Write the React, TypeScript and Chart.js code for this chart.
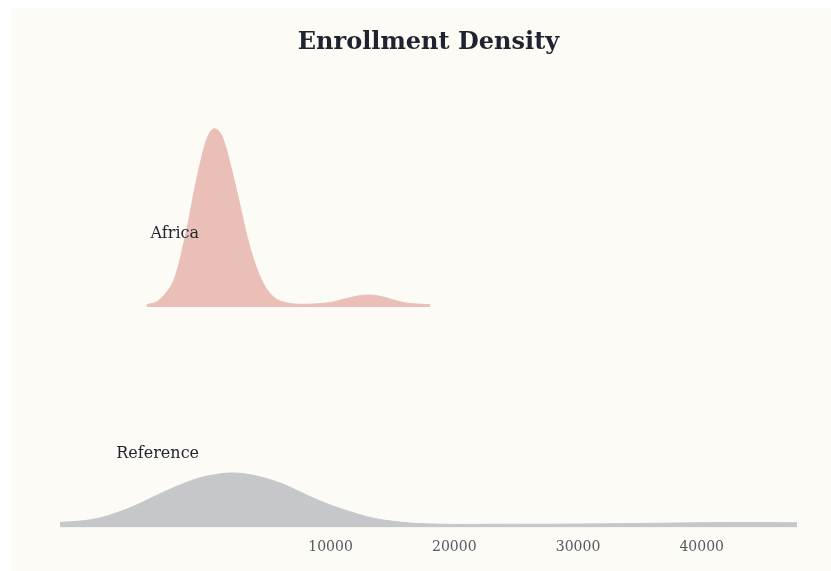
import React, { useEffect, useRef } from "react";
import { Chart, registerables } from "chart.js";

Chart.register(...registerables);

const TITLE = "Enrollment Density";
const BG = "#fdfbf6";

// x axis
const X_MIN = -11870;
const X_MAX = 47700;
const TICK_VALUES = [10000, 20000, 30000, 40000];

// ridge names (top to bottom)
const RIDGES = ["Africa", "Reference"];

// Africa density (relative)
const africaX = [-4860, -4000, -3000, -2500, -2000, -1500, -1000, -500, 0, 500, 1000, 1500, 2000, 2500, 3000, 3500, 4000, 4500, 5000, 5500, 6000, 7000, 8000, 9000, 10000, 11000, 12000, 13000, 14000, 15000, 16000, 17000, 18050];
const africaDensity = [0.013, 0.031, 0.106, 0.184, 0.318, 0.475, 0.659, 0.816, 0.944, 1.0, 0.986, 0.905, 0.771, 0.626, 0.469, 0.33, 0.223, 0.14, 0.084, 0.05, 0.031, 0.017, 0.015, 0.018, 0.025, 0.042, 0.059, 0.067, 0.06, 0.041, 0.023, 0.016, 0.013];

// Reference density (relative)
const referenceX = [-11870, -10000, -8600, -7300, -5900, -4600, -3200, -1900, -550, 800, 2150, 3500, 4850, 6200, 7550, 8900, 10250, 11600, 12950, 14300, 15600, 17000, 19700, 24000, 28000, 32000, 36000, 40000, 44000, 47700];
const referenceDensity = [0.028, 0.037, 0.054, 0.082, 0.119, 0.162, 0.208, 0.246, 0.279, 0.298, 0.306, 0.296, 0.274, 0.242, 0.199, 0.156, 0.119, 0.088, 0.06, 0.041, 0.03, 0.022, 0.017, 0.018, 0.018, 0.02, 0.023, 0.026, 0.027, 0.026];

const COLORS = ["#eabfb8", "#c6c7cb"];

const AMP = 0.807; // ridge height per density unit
const LABEL_X = -630;
const LABEL_LIFT = 0.315;

export default function App() {
  const ref = useRef<HTMLCanvasElement>(null);

  useEffect(() => {
    if (!ref.current) return;
    const series = [
      { x: africaX, d: africaDensity, offset: 1 },
      { x: referenceX, d: referenceDensity, offset: 0 },
    ];
    const datasets = series.map((s, i) => ({
      label: RIDGES[i],
      data: s.x.map((x, j) => ({ x, y: s.offset + s.d[j] * AMP })),
      backgroundColor: COLORS[i],
      borderColor: COLORS[i],
      borderWidth: 1,
      pointRadius: 0,
      tension: 0.35,
      fill: { value: s.offset },
    }));

    const labelsPlugin = {
      id: "ridgeLabels",
      afterDatasetsDraw(chart: any) {
        const { ctx, scales } = chart;
        ctx.save();
        ctx.font = "16px 'DejaVu Serif'";
        ctx.fillStyle = "#252530";
        ctx.textAlign = "right";
        ctx.textBaseline = "alphabetic";
        series.forEach((s, i) => {
          ctx.fillText(
            RIDGES[i],
            scales.x.getPixelForValue(LABEL_X),
            scales.y.getPixelForValue(s.offset + LABEL_LIFT)
          );
        });
        ctx.restore();
      },
    };

    const bgPlugin = {
      id: "bg",
      beforeDraw(chart: any) {
        const { ctx, width, height } = chart;
        ctx.save();
        ctx.fillStyle = BG;
        ctx.fillRect(0, 0, width, height);
        ctx.restore();
      },
    };

    const chart = new Chart(ref.current, {
      type: "line",
      data: { datasets },
      options: {
        animation: false,
        responsive: false,
        maintainAspectRatio: false,
        layout: { padding: { top: 8, left: 49, right: 34, bottom: 2.8 } },
        plugins: {
          legend: { display: false },
          tooltip: { enabled: false },
          title: {
            display: true,
            text: TITLE,
            color: "#1f2330",
            font: { family: "'DejaVu Serif'", size: 24, weight: "bold" },
            padding: { top: 12, bottom: 20 },
          },
        },
        scales: {
          x: {
            type: "linear",
            min: X_MIN,
            max: X_MAX,
            grid: { display: false, drawTicks: false },
            border: { display: false },
            afterBuildTicks(axis: any) {
              axis.ticks = TICK_VALUES.map((v) => ({ value: v }));
            },
            ticks: {
              padding: 12,
              color: "#555a62",
              font: { family: "'DejaVu Serif'", size: 14 },
              callback: (v: any) => String(v),
            },
          },
          y: {
            display: false,
            min: 0,
            max: 2.044,
          },
        },
      },
      plugins: [bgPlugin, labelsPlugin],
    });
    return () => chart.destroy();
  }, []);

  return (
    <div style={{ position: "fixed", left: 11, top: 8, width: 820, height: 563, background: BG }}>
      <canvas ref={ref} width={820} height={563} style={{ display: "block" }} />
    </div>
  );
}
